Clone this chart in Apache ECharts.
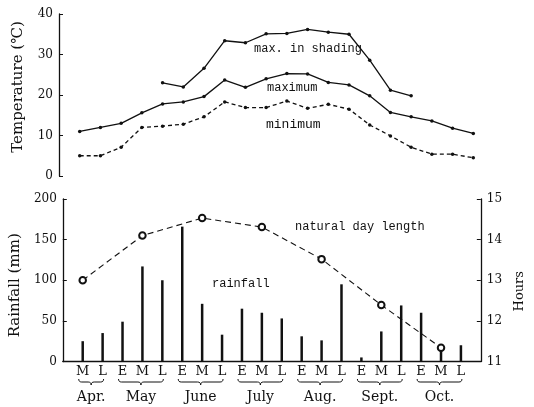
<!DOCTYPE html>
<html>
<head>
<meta charset="utf-8">
<script src="https://cdn.jsdelivr.net/npm/echarts@6/dist/echarts.min.js"></script>
<style>html,body{margin:0;padding:0;background:#fff}#c{width:534px;height:407px}</style>
</head>
<body>
<div id="c"></div>
<script>
// Dekads (E = early, M = middle, L = late) from mid-April to late October
const dekads = ['M','L','E','M','L','E','M','L','E','M','L','E','M','L','E','M','L','E','M','L'];
const months = ['Apr.','May','June','July','Aug.','Sept.','Oct.'];
const monthGroups = [[0,1],[2,4],[5,7],[8,10],[11,13],[14,16],[17,19]];
const tempTicks = [0,10,20,30,40];
const rainTicks = [0,50,100,150,200];
const hourTicks = [11,12,13,14,15];

// Temperatures (°C)
const maxTemp   = [11, 12, 13, 15.6, 17.8, 18.3, 19.6, 23.7, 21.9, 24, 25.3, 25.2, 23.1, 22.5, 19.8, 15.7, 14.6, 13.6, 11.8, 10.5];
const minTemp   = [5, 5, 7.1, 12, 12.3, 12.8, 14.6, 18.3, 16.9, 16.9, 18.5, 16.7, 17.7, 16.5, 12.6, 9.9, 7.1, 5.4, 5.4, 4.5];
const shadeMax  = [null, null, null, null, 23, 22, 26.6, 33.4, 32.9, 35.1, 35.2, 36.2, 35.5, 35, 28.6, 21.2, 19.8, null, null, null];
// Rainfall (mm)
const rainfall  = [25, 35, 49, 117, 100, 166, 71, 33, 65, 60, 53, 31, 26, 95, 5, 37, 69, 60, 20, 20];
// Natural day length (hours), middle dekads only
const dayLength = [13.0, null, null, 14.1, null, null, 14.53, null, null, 14.31, null, null, 13.52, null, null, 12.39, null, null, 11.34, null];

const pad = a => [null].concat(a, [null]);
const axisCats = [''].concat(dekads, ['']);
const serif = "'DejaVu Serif', 'Liberation Serif', 'Noto Sans CJK JP', serif";
const mono = "'Liberation Mono', 'DejaVu Sans Mono', monospace";
const black = '#111';

const yCommon = {
  type: 'value',
  nameLocation: 'middle',
  axisLine: { show: true, lineStyle: { color: black, width: 1.3 } },
  axisTick: { show: true, inside: true, length: 4, lineStyle: { color: black } },
  splitLine: { show: false },
  axisLabel: { color: black, fontFamily: serif, fontSize: 12, margin: 6 }
};

const chart = echarts.init(document.getElementById('c'), null, { renderer: 'canvas' });
const option = {
  backgroundColor: '#fff',
  animation: false,
  grid: [
    { left: 59, right: 40, top: 14, height: 162 },
    { left: 59, right: 40, top: 199, height: 162.5 }
  ],
  xAxis: [
    { type: 'category', gridIndex: 0, data: axisCats, boundaryGap: false, show: false },
    { type: 'category', gridIndex: 1, data: axisCats, boundaryGap: false,
      axisLine: { lineStyle: { color: black, width: 1.3 } },
      axisTick: { show: false },
      axisLabel: { interval: 0, color: black, fontFamily: serif, fontSize: 13, margin: 4 } }
  ],
  yAxis: [
    Object.assign({}, yCommon, { gridIndex: 0, min: tempTicks[0], max: tempTicks[tempTicks.length-1], interval: 10,
      name: 'Temperature (℃)', nameGap: 33,
      nameTextStyle: { fontFamily: serif, fontSize: 15, color: black, padding: [0, 0, 0, 16] } }),
    Object.assign({}, yCommon, { gridIndex: 1, min: rainTicks[0], max: rainTicks[rainTicks.length-1], interval: 50,
      name: 'Rainfall (mm)', nameGap: 33,
      nameTextStyle: { fontFamily: serif, fontSize: 15, color: black, padding: [0, 10, 0, 0] } }),
    Object.assign({}, yCommon, { gridIndex: 1, position: 'right', min: hourTicks[0], max: hourTicks[hourTicks.length-1], interval: 1,
      name: 'Hours', nameGap: 28, nameRotate: 90,
      nameTextStyle: { fontFamily: serif, fontSize: 13, color: black, padding: [0, 22, 0, 0] } })
  ],
  series: [
    { name: 'max. in shading', type: 'line', xAxisIndex: 0, yAxisIndex: 0, data: pad(shadeMax),
      symbol: 'circle', symbolSize: 3.5, showAllSymbol: true, itemStyle: { color: black }, lineStyle: { color: black, width: 1.3 } },
    { name: 'maximum', type: 'line', xAxisIndex: 0, yAxisIndex: 0, data: pad(maxTemp),
      symbol: 'circle', symbolSize: 3.5, showAllSymbol: true, itemStyle: { color: black }, lineStyle: { color: black, width: 1.3 } },
    { name: 'minimum', type: 'line', xAxisIndex: 0, yAxisIndex: 0, data: pad(minTemp),
      symbol: 'circle', symbolSize: 3.5, showAllSymbol: true, itemStyle: { color: black }, lineStyle: { color: black, width: 1.3, type: [4, 3] } },
    { name: 'rainfall', type: 'bar', xAxisIndex: 1, yAxisIndex: 1, data: pad(rainfall),
      barWidth: 2.5, itemStyle: { color: black } },
    { name: 'natural day length', type: 'line', xAxisIndex: 1, yAxisIndex: 2, data: pad(dayLength), connectNulls: true,
      symbol: 'emptyCircle', symbolSize: 6.5, showSymbol: true, showAllSymbol: true, z: 5,
      itemStyle: { color: black, borderWidth: 1 },
      lineStyle: { color: black, width: 1.1, type: [6, 4] } }
  ],
  graphic: [
    { type: 'text', left: 254, top: 43, style: { text: 'max. in shading', font: '12px ' + mono, fill: black } },
    { type: 'text', left: 267, top: 82, style: { text: 'maximum', font: '12px ' + mono, fill: black } },
    { type: 'text', left: 266, top: 118, style: { text: 'minimum', font: '13px ' + mono, fill: black } },
    { type: 'text', left: 212, top: 278, style: { text: 'rainfall', font: '12px ' + mono, fill: black } },
    { type: 'text', left: 295, top: 221, style: { text: 'natural day length', font: '12px ' + mono, fill: black } }
  ]
};
chart.setOption(option);

// Braces and month names under the dekad letters, placed through the axis scale
function quad(p0, c, p1, n) {
  const pts = [];
  for (let i = 0; i <= n; i++) {
    const t = i / n;
    pts.push([(1-t)*(1-t)*p0[0] + 2*(1-t)*t*c[0] + t*t*p1[0], (1-t)*(1-t)*p0[1] + 2*(1-t)*t*c[1] + t*t*p1[1]]);
  }
  return pts;
}
const extra = [];
monthGroups.forEach((g, k) => {
  const x1 = chart.convertToPixel({ xAxisIndex: 1 }, g[0] + 1) - 4;
  const x2 = chart.convertToPixel({ xAxisIndex: 1 }, g[1] + 1) + 1;
  const xm = (x1 + x2) / 2;
  const y0 = 379, d = 3;
  let pts = [];
  pts = pts.concat(quad([x1, y0], [x1, y0+d], [x1+3, y0+d], 4));
  pts = pts.concat(quad([xm-3, y0+d], [xm, y0+d], [xm, y0+2*d], 4));
  pts = pts.concat(quad([xm, y0+2*d], [xm, y0+d], [xm+3, y0+d], 4));
  pts = pts.concat(quad([x2-3, y0+d], [x2, y0+d], [x2, y0], 4));
  extra.push({ type: 'polyline', shape: { points: pts }, style: { fill: null, stroke: black, lineWidth: 1 } });
  extra.push({ type: 'text', x: xm, y: 397, style: { text: months[k], font: '14px ' + serif, fill: black, align: 'center', verticalAlign: 'middle' } });
});
chart.setOption({ graphic: option.graphic.concat(extra) });
</script>
</body>
</html>
